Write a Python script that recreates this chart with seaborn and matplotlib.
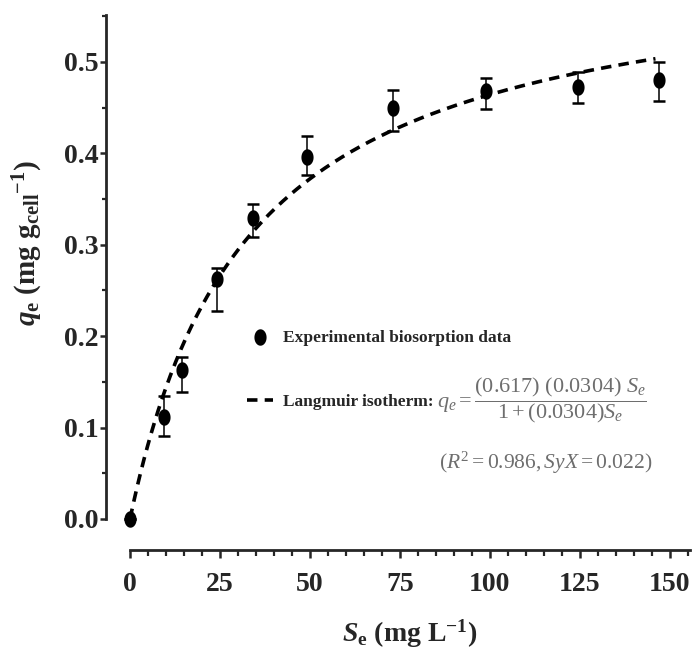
import numpy as np
import pandas as pd
import matplotlib
matplotlib.use("Agg")
import matplotlib.pyplot as plt
from matplotlib.path import Path
from matplotlib.ticker import FixedLocator
from matplotlib.lines import Line2D
import seaborn as sns

# ---------------- data ----------------
Se = [0.0, 9.5, 14.5, 24.2, 34.1, 49.3, 73.1, 99.0, 124.4, 147.0]
qe = [0.000, 0.112, 0.163, 0.262, 0.329, 0.396, 0.450, 0.468, 0.473, 0.480]
err_low = [0.000, 0.021, 0.024, 0.035, 0.021, 0.020, 0.025, 0.019, 0.018, 0.023]
err_high = [0.000, 0.023, 0.014, 0.013, 0.016, 0.023, 0.019, 0.015, 0.016, 0.020]

# Langmuir isotherm parameters (from the chart's equation)
q_max = 0.617
K_L = 0.0304
fit_S_max = 146.0

x_ticks = [0, 25, 50, 75, 100, 125, 150]
y_ticks = [0.0, 0.1, 0.2, 0.3, 0.4, 0.5]
x_minor = [v for v in range(0, 156, 5)]
y_minor = [round(0.05 * i, 2) for i in range(0, 12)]

# ---------------- style ----------------
sns.set_style("ticks")
plt.rcParams["font.family"] = ["Liberation Serif", "DejaVu Serif"]
plt.rcParams["mathtext.fontset"] = "custom"
plt.rcParams["mathtext.rm"] = "Liberation Serif:normal"
plt.rcParams["mathtext.it"] = "Liberation Serif:italic:normal"
plt.rcParams["mathtext.bf"] = "Liberation Serif:bold"
plt.rcParams["mathtext.bfit"] = "Liberation Serif:italic:bold"

df = pd.DataFrame({"Se": Se, "qe": qe})
S_fit = np.linspace(0, fit_S_max, 300)
fit_df = pd.DataFrame({"Se": S_fit, "qe": q_max * K_L * S_fit / (1 + K_L * S_fit)})

fig = plt.figure(figsize=(6.93, 6.52), dpi=100)
ax = fig.add_axes([106 / 693, 102 / 652, 584 / 693, 535 / 652])

# elliptical marker (slightly taller than wide, as in the reference)
th = np.linspace(0, 2 * np.pi, 60)
ell = Path(np.column_stack([0.74 * np.cos(th), np.sin(th)]))

ax.errorbar(Se, qe, yerr=[err_low, err_high], fmt="none", ecolor="black",
            elinewidth=1.1, capsize=4.5, capthick=1.8, zorder=2)
sns.lineplot(data=fit_df, x="Se", y="qe", ax=ax, color="black", lw=2.6,
             linestyle=(0, (2.9, 2.0)), zorder=3, label="Langmuir isotherm:")
sns.scatterplot(data=df, x="Se", y="qe", ax=ax, color="black", marker=ell,
                s=140, edgecolor="black", linewidth=0, zorder=4,
                label="Experimental biosorption data")

ax.set_xlim(-6.67, 155.6)
ax.set_ylim(-0.034, 0.5514)
ax.spines["top"].set_visible(False)
ax.spines["right"].set_visible(False)
ax.spines["left"].set_bounds(0, 0.5514)
ax.spines["bottom"].set_bounds(0, 155.6)
for sp in ("left", "bottom"):
    ax.spines[sp].set_linewidth(2.0)

ax.set_xticks(x_ticks)
ax.set_yticks(y_ticks)
ax.set_yticklabels([f"{v:.1f}" for v in y_ticks])
ax.xaxis.set_minor_locator(FixedLocator(x_minor))
ax.yaxis.set_minor_locator(FixedLocator(y_minor))
ax.tick_params(axis="x", which="major", direction="out", length=6, width=1.8,
               pad=10, labelsize=20)
ax.tick_params(axis="x", which="minor", direction="out", length=4, width=1.6)
ax.tick_params(axis="y", which="major", direction="out", length=4.5, width=1.8,
               pad=1, labelsize=20)
ax.tick_params(axis="y", which="minor", direction="out", length=3, width=1.6)
for lab in ax.get_xticklabels() + ax.get_yticklabels():
    lab.set_fontweight("bold")

ax.set_xlabel(r"$\mathbfit{S}_{\mathbf{e}}$ (mg L$^{\mathbf{-1}}$)",
              fontsize=20, fontweight="bold", va="center")
ax.xaxis.set_label_coords(0.52, (550 - 634) / 535)
ax.set_ylabel(r"$\mathbfit{q}_{\mathbf{e}}$ (mg g$_{\mathbf{cell}}$$^{\mathbf{-1}}$)",
              fontsize=21, fontweight="bold", va="center")
ax.yaxis.set_label_coords((28 - 106) / 584, (550 - 243) / 535)

# legend
handles, labels = ax.get_legend_handles_labels()
order = [labels.index("Experimental biosorption data"), labels.index("Langmuir isotherm:")]
leg = ax.legend([handles[i] for i in order], [labels[i] for i in order],
                loc="center left", bbox_to_anchor=(0.241, (550 - 370) / 535),
                frameon=False, borderpad=0, borderaxespad=0,
                handlelength=1.5, handletextpad=0.6, labelspacing=2.8,
                prop={"family": "Liberation Serif", "weight": "bold", "size": 12.5})
for h in leg.legend_handles:
    if isinstance(h, Line2D):
        h.set_linewidth(2.6)

# equation text
eq_color = "#6e6e6e"
ax.text((437 - 106) / 584, (550 - 400) / 535,
        r"$q_e = \dfrac{(0.617)\ (0.0304)\ S_e}{1 + (0.0304) S_e}$",
        transform=ax.transAxes, fontsize=16, color=eq_color,
        ha="left", va="center")
ax.text((546 - 106) / 584, (550 - 463) / 535,
        r"$(R^2 = 0.986, SyX = 0.022)$",
        transform=ax.transAxes, fontsize=15.5, color=eq_color,
        ha="center", va="center")

fig.savefig("out.png", dpi=100)
